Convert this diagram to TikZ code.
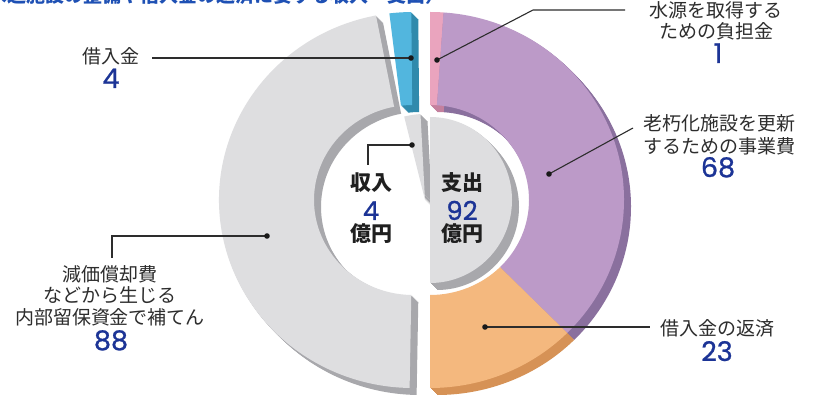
\documentclass[tikz,border=0pt]{standalone}
\usepackage{fontspec}
\newfontfamily\jp{Noto Sans CJK JP}
\newfontfamily\numfont{Poppins}[FakeBold=0.9]
\definecolor{gface}{RGB}{222,222,224}
\definecolor{gside}{RGB}{168,168,172}
\definecolor{bface}{RGB}{82,182,222}
\definecolor{bside}{RGB}{48,138,172}
\definecolor{pface}{RGB}{234,164,190}
\definecolor{pside}{RGB}{196,128,158}
\definecolor{uface}{RGB}{188,154,200}
\definecolor{uside}{RGB}{138,112,158}
\definecolor{oface}{RGB}{244,184,126}
\definecolor{oside}{RGB}{214,146,86}
\definecolor{txt}{RGB}{45,45,45}
\definecolor{numblue}{RGB}{28,52,150}
\definecolor{titleblue}{RGB}{30,80,180}
\newcommand{\ringfill}[5]{\fill[#5] ([shift={(#1,#2)}]#3:194 and 188) arc[start angle=#3,end angle=#4,x radius=194,y radius=188] -- ([shift={(#1,#2)}]#4:99 and 95) arc[start angle=#4,end angle=#3,x radius=99,y radius=95] -- cycle;}
\newcommand{\wedgefill}[7]{\fill[#7] (#1,#2) -- ([shift={(#1,#2)}]#3:#5 and #6) arc[start angle=#3,end angle=#4,x radius=#5,y radius=#6] -- cycle;}
\tikzset{
  labtxt/.style={font=\jp\fontsize{19}{22}\selectfont, text=txt, anchor=base, inner sep=0pt},
  numtxt/.style={font=\numfont\fontsize{27}{30}\selectfont, text=numblue, anchor=base, inner sep=0pt, text height=19pt, text depth=0pt},
  inlab/.style={font=\jp\bfseries\fontsize{21}{24}\selectfont, text=black!88, anchor=base, inner sep=0pt, text height=17pt, text depth=1pt},
  innum/.style={font=\numfont\fontsize{26}{30}\selectfont, text=numblue, anchor=base, inner sep=0pt, text height=18pt, text depth=0pt},
  leader/.style={draw=txt, line width=1.1pt},
  dot/.style={fill=black!90}
}
\begin{document}
\begin{tikzpicture}[x=1pt,y=1pt]
\useasboundingbox (0,0) rectangle (819,404);
\clip (0,0) rectangle (819,404);
\fill[white] (0,0) rectangle (819,404);
% extrusion (side faces)
\foreach \k in {1,...,7}{
  \ringfill{413+\k}{204-\k}{101}{269}{gside}
  \ringfill{413+\k}{204-\k}{90.5}{97}{bside}
  \ringfill{430+\k}{204-\k}{90}{86}{pside}
  \ringfill{430+\k}{204-\k}{86}{-45}{uside}
  \ringfill{430+\k}{204-\k}{-45}{-90}{oside}
  \wedgefill{430+\k}{204-\k}{90}{-90}{82}{83}{gside}
  \wedgefill{425+\k}{204-\k}{93}{104}{86}{86}{gside}
}
% top faces
\ringfill{413}{204}{101}{269}{gface}
\ringfill{413}{204}{90.5}{97}{bface}
\ringfill{430}{204}{90}{86}{pface}
\ringfill{430}{204}{86}{-45}{uface}
\ringfill{430}{204}{-45}{-90}{oface}
\wedgefill{430}{204}{90}{-90}{82}{83}{gface}
\wedgefill{425}{204}{93}{104}{86}{86}{gface}
% title (cut off at top)
\node[font=\jp\bfseries\fontsize{19}{22}\selectfont, text=titleblue, anchor=base west, inner sep=0pt] (title) at (-12,401) {水道施設の整備や借入金の返済に要する収入・支出）};
% leaders
\coordinate (d1) at (411,346); \coordinate (e1) at (152,346);
\draw[leader] (e1) -- (d1); \fill[dot] (d1) circle (2.8);
\coordinate (d2) at (437,344); \coordinate (k2) at (533,394); \coordinate (e2) at (625,394);
\draw[leader] (d2) -- (k2) -- (e2); \fill[dot] (d2) circle (2.8);
\coordinate (d3) at (549,230); \coordinate (e3) at (633,276);
\draw[leader] (d3) -- (e3); \fill[dot] (d3) circle (2.8);
\coordinate (d4) at (485,77); \coordinate (e4) at (650,77);
\draw[leader] (d4) -- (e4); \fill[dot] (d4) circle (2.8);
\coordinate (d5) at (267,168); \coordinate (k5) at (112,168); \coordinate (e5) at (112,146);
\draw[leader] (d5) -- (k5) -- (e5); \fill[dot] (d5) circle (2.8);
\coordinate (d6) at (412,259); \coordinate (k6) at (368,259); \coordinate (e6) at (368,239);
\draw[leader] (d6) -- (k6) -- (e6); \fill[dot] (d6) circle (2.8);
% labels
\node[labtxt] (l1a) at (111,340) {借入金};
\node[numtxt] (l1b) at (111,316) {4};
\node[labtxt] (l2a) at (716,386) {水源を取得する};
\node[labtxt] (l2b) at (716,365) {ための負担金};
\node[numtxt] (l2c) at (718,341) {1};
\node[labtxt] (l3a) at (719,273) {老朽化施設を更新};
\node[labtxt] (l3b) at (719,250) {するための事業費};
\node[numtxt] (l3c) at (718,227) {68};
\node[labtxt] (l4a) at (717,68) {借入金の返済};
\node[numtxt] (l4b) at (717,43) {23};
\node[labtxt] (l5a) at (110,122) {減価償却費};
\node[labtxt] (l5b) at (110,101) {などから生じる};
\node[labtxt] (l5c) at (110,79) {内部留保資金で補てん};
\node[numtxt] (l5d) at (111,54) {88};
\node[inlab] (i1a) at (371,213) {収入};
\node[innum] (i1b) at (371,184) {4};
\node[inlab] (i1c) at (371,162) {億円};
\node[inlab] (i2a) at (462,213) {支出};
\node[innum] (i2b) at (462,184) {92};
\node[inlab] (i2c) at (462,162) {億円};
\end{tikzpicture}
\end{document}
